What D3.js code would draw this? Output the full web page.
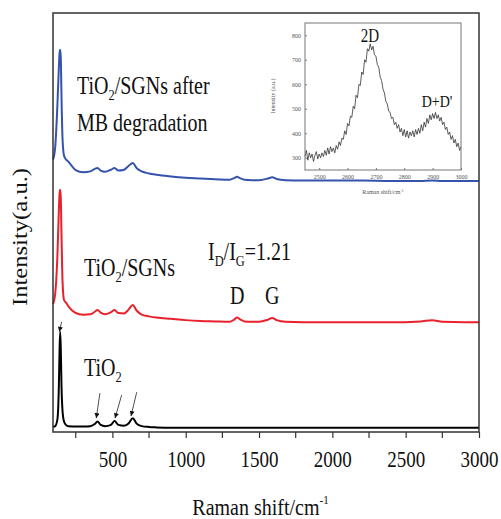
<!DOCTYPE html>
<html>
<head>
<meta charset="utf-8">
<script src="https://cdn.jsdelivr.net/npm/d3@7"></script>
<style>
  body { margin: 0; background: #fff; }
  svg text { font-family: "Liberation Serif", "Times New Roman", serif; fill: #111; }
</style>
</head>
<body>
<svg id="chart" width="501" height="519"></svg>
<script>

//
// Data
//
var shifts = [95, 110, 125, 135, 140, 144, 148, 153, 160, 170, 185, 200, 250, 300, 350, 380, 399, 420, 450, 490,
    515, 540, 580, 610, 639, 665, 700, 750, 800, 900, 1000, 1100, 1200, 1300, 1330, 1350, 1370, 1400, 1450, 1500,
    1560, 1590, 1620, 1680, 1800, 2000, 2200, 2400, 2600, 2680, 2750, 2900, 3000];

var tio2 = [12, 14, 30, 110, 200, 239, 200, 110, 50, 25, 16, 14, 13, 13, 14, 19, 25, 17, 14, 17,
    26, 17, 15, 20, 33, 20, 14, 12, 11, 10, 10, 10, 10, 10, 10, 10, 10, 10, 10, 10,
    10, 10, 10, 10, 10, 10, 10, 10, 10, 10, 10, 10, 10];

var tio2_sgns = [305, 330, 420, 530, 570, 578, 560, 470, 360, 315, 308, 300, 284, 280, 281, 287, 291, 285, 281, 286,
    291, 284, 283, 292, 303, 290, 280, 276, 273, 270, 267, 265, 264, 263, 268, 273, 269, 264, 263, 263,
    268, 272, 267, 263, 262, 262, 262, 262, 264, 267, 263, 262, 262];

var tio2_sgns_mb = [650, 680, 780, 870, 905, 912, 895, 800, 700, 660, 650, 645, 625, 620, 622, 628, 630, 624, 621, 626,
    630, 624, 626, 635, 642, 630, 622, 617, 614, 610, 607, 605, 603, 602, 606, 609, 606, 602, 601, 601,
    605, 608, 604, 601, 600, 600, 600, 599, 599, 600, 599, 599, 599];

var series_colors = ["#000000", "#e8212b", "#3552ad"];

var x_ticks = [500, 1000, 1500, 2000, 2500, 3000];
var x_minor = [250, 750, 1250, 1750, 2250, 2750];

// arrows onto the TiO2 peaks: [from shift, from intensity, to shift, to intensity]
var arrows = [
    [154, 263, 138, 239],
    [415, 93, 390, 33],
    [563, 88, 518, 33],
    [666, 95, 627, 38]
];

// inset: 2D and D+D' region
var inset_shift = d3.range(2450, 3001, 5);
var inset_counts = [305, 330, 290, 320, 300, 315, 285, 310, 325, 295, 315, 300, 320, 305, 330, 310, 340, 315, 345, 325,
    340, 320, 350, 335, 365, 350, 380, 375, 410, 395, 440, 430, 470, 465, 510, 500, 555, 545, 600, 595,
    650, 640, 700, 690, 745, 735, 765, 740, 755, 720, 715, 680, 670, 630, 615, 580, 565, 530, 520, 490,
    485, 460, 465, 435, 445, 420, 435, 405, 420, 390, 415, 385, 410, 380, 405, 390, 410, 385, 415, 395,
    420, 400, 435, 410, 445, 425, 460, 440, 475, 455, 480, 460, 485, 460, 475, 450, 465, 435, 445, 415,
    425, 395, 405, 375, 390, 360, 375, 345, 360, 330, 345];
var inset_x_ticks = [2500, 2600, 2700, 2800, 2900, 3000];
var inset_y_ticks = [300, 400, 500, 600, 700, 800];

//
// Main plot
//
var svg = d3.select("#chart");
var m_left = 53, m_right = 479, m_top = 13, m_bottom = 432;

var x = d3.scaleLinear().domain([95, 3000]).range([m_left, m_right]);
var y = d3.scaleLinear().domain([0, 1000]).range([m_bottom, m_top]);

svg.append("rect").attr("width", 501).attr("height", 519).attr("fill", "#fff");

var line = d3.line()
    .x(function (d) { return x(d[0]); })
    .y(function (d) { return y(d[1]); })
    .curve(d3.curveMonotoneX);

[tio2, tio2_sgns, tio2_sgns_mb].forEach(function (vals, i) {
    svg.append("path")
        .datum(d3.zip(shifts, vals))
        .attr("d", line)
        .attr("fill", "none")
        .attr("stroke", series_colors[i])
        .attr("stroke-width", 2);
});

// frame
svg.append("rect")
    .attr("x", m_left).attr("y", m_top)
    .attr("width", m_right - m_left).attr("height", m_bottom - m_top)
    .attr("fill", "none").attr("stroke", "#333").attr("stroke-width", 1.5);

// x axis
var xAxis = svg.append("g")
    .attr("transform", "translate(0," + m_bottom + ")")
    .call(d3.axisBottom(x).tickValues(x_ticks).tickSize(6).tickFormat(d3.format("d")));
xAxis.select(".domain").remove();
xAxis.selectAll("line").attr("stroke", "#333").attr("stroke-width", 1.2);
xAxis.selectAll("text")
    .attr("y", 0).attr("dy", null)
    .attr("transform", "translate(0,35) scale(1,1.2)")
    .style("font-size", "19px")
    .style("font-family", "Liberation Serif, serif");

svg.append("g").selectAll("line")
    .data(x_minor).enter().append("line")
    .attr("x1", function (d) { return x(d); }).attr("x2", function (d) { return x(d); })
    .attr("y1", m_bottom).attr("y2", m_bottom + 6)
    .attr("stroke", "#333").attr("stroke-width", 1.2);

// axis titles
var xt = svg.append("text")
    .attr("transform", "translate(" + (x(1510)) + ",515) scale(1,1.2)")
    .attr("text-anchor", "middle")
    .style("font-size", "20px");
xt.append("tspan").text("Raman shift/cm");
xt.append("tspan").attr("dy", -9).style("font-size", "11px").text("-1");

svg.append("text")
    .attr("transform", "translate(27,237) scale(1,1.12) rotate(-90)")
    .attr("text-anchor", "middle")
    .style("font-size", "22px")
    .text("Intensity(a.u.)");

// labels
function label(px, py, parts, size) {
    var t = svg.append("text")
        .attr("transform", "translate(" + px + "," + py + ") scale(1,1.25)")
        .style("font-size", size + "px");
    parts.forEach(function (p) {
        var s = t.append("tspan").text(p[0]);
        if (p[1] === "sub") s.attr("dy", 5).style("font-size", (size * 0.62) + "px");
        if (p[1] === "up") s.attr("dy", -5);
    });
    return t;
}

label(77, 94, [["TiO"], ["2", "sub"], ["/SGNs after", "up"]], 20);
label(77, 131, [["MB degradation"]], 20);
label(84, 276, [["TiO"], ["2", "sub"], ["/SGNs", "up"]], 20);
label(84, 376, [["TiO"], ["2", "sub"]], 20);
label(208, 260, [["I"], ["D", "sub"], ["/I", "up"], ["G", "sub"], ["=1.21", "up"]], 20);
label(230, 304, [["D"]], 20);
label(265, 304, [["G"]], 20);

// arrows
var defs = svg.append("defs");
defs.append("marker")
    .attr("id", "head")
    .attr("viewBox", "0 0 10 10")
    .attr("refX", 10).attr("refY", 5)
    .attr("markerWidth", 7).attr("markerHeight", 5)
    .attr("markerUnits", "userSpaceOnUse")
    .attr("orient", "auto")
    .append("path").attr("d", "M0,0L10,5L0,10z").attr("fill", "#111");

svg.append("g").selectAll("line")
    .data(arrows).enter().append("line")
    .attr("x1", function (d) { return x(d[0]); })
    .attr("y1", function (d) { return y(d[1]); })
    .attr("x2", function (d) { return x(d[2]); })
    .attr("y2", function (d) { return y(d[3]); })
    .attr("stroke", "#222").attr("stroke-width", 0.8)
    .attr("marker-end", "url(#head)");

//
// Inset
//
var ix = d3.scaleLinear().domain([2450, 3000]).range([305, 461]);
var iy = d3.scaleLinear().domain([250, 850]).range([170, 23]);

svg.append("path")
    .datum(d3.zip(inset_shift, inset_counts))
    .attr("d", d3.line().x(function (d) { return ix(d[0]); }).y(function (d) { return iy(d[1]); }))
    .attr("fill", "none").attr("stroke", "#333").attr("stroke-width", 0.8);

svg.append("rect")
    .attr("x", 305).attr("y", 23).attr("width", 156).attr("height", 147)
    .attr("fill", "none").attr("stroke", "#777").attr("stroke-width", 1);

var ixAxis = svg.append("g").attr("transform", "translate(0,170)")
    .call(d3.axisBottom(ix).tickValues(inset_x_ticks).tickSize(-2).tickPadding(5).tickFormat(d3.format("d")));
ixAxis.select(".domain").remove();
ixAxis.selectAll("line").attr("stroke", "#777");
ixAxis.selectAll("text").style("font-size", "6px").style("fill", "#555");

var iyAxis = svg.append("g").attr("transform", "translate(305,0)")
    .call(d3.axisLeft(iy).tickValues(inset_y_ticks).tickSize(-2).tickPadding(4).tickFormat(d3.format("d")));
iyAxis.select(".domain").remove();
iyAxis.selectAll("line").attr("stroke", "#777");
iyAxis.selectAll("text").style("font-size", "6px").style("fill", "#555");

var ixt = svg.append("text")
    .attr("x", 383).attr("y", 194)
    .attr("text-anchor", "middle")
    .style("font-size", "6px").style("fill", "#555");
ixt.append("tspan").text("Raman shift/cm");
ixt.append("tspan").attr("dy", -2).style("font-size", "4px").text("-1");

svg.append("text")
    .attr("transform", "translate(275,96) rotate(-90)")
    .attr("text-anchor", "middle")
    .style("font-size", "6px").style("fill", "#555")
    .text("Intensity (a.u.)");

svg.append("text")
    .attr("transform", "translate(370,42) scale(1,1.25)")
    .attr("text-anchor", "middle")
    .style("font-size", "15px")
    .text("2D");

svg.append("text")
    .attr("transform", "translate(437,107) scale(1,1.25)")
    .attr("text-anchor", "middle")
    .style("font-size", "14px")
    .text("D+D'");

</script>
</body>
</html>
